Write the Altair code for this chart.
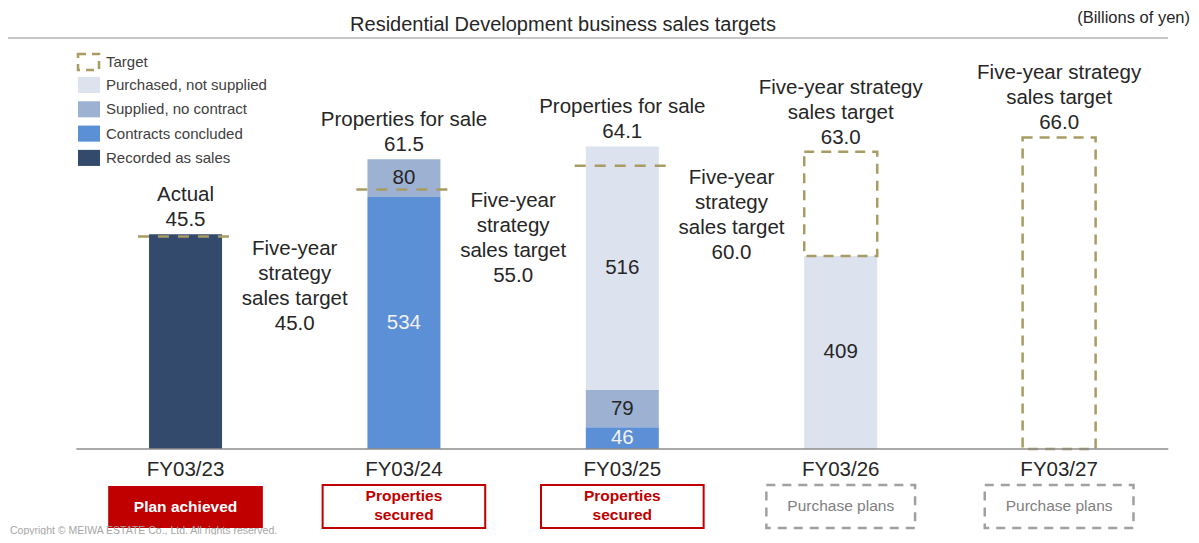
import altair as alt
import pandas as pd

# ---------------- data ----------------
years = ["FY03/23", "FY03/24", "FY03/25", "FY03/26", "FY03/27"]
segments = ["Purchased, not supplied", "Supplied, no contract", "Contracts concluded", "Recorded as sales"]
seg_colors = ["#dce3ef", "#9db1d3", "#5b8fd6", "#344a6c"]
stack_order = ["Recorded as sales", "Contracts concluded", "Supplied, no contract", "Purchased, not supplied"]
# values in hundreds of millions of yen
recorded = [455, 0, 0, 0, 0]
contracts = [0, 534, 46, 0, 0]
supplied = [0, 80, 79, 0, 0]
purchased = [0, 0, 516, 409, 0]
targets = [45.0, 55.0, 60.0, 63.0, 66.0]          # billions of yen
header_titles = [["Actual"], ["Properties for sale"], ["Properties for sale"],
                 ["Five-year strategy", "sales target"], ["Five-year strategy", "sales target"]]
header_values = ["45.5", "61.5", "64.1", "63.0", "66.0"]
target_note = ["Five-year", "strategy", "sales target"]
badge_texts = [["Plan achieved"], ["Properties", "secured"], ["Properties", "secured"],
               ["Purchase plans"], ["Purchase plans"]]
badge_kinds = ["achieved", "secured", "secured", "plans", "plans"]

# ---------------- layout ----------------
FONT = "Liberation Sans"
W, H = 1183, 527
X_DOM = [-0.79, 4.581]
Y_DOM = [-18.22, 93.43]
PX_X = W / (X_DOM[1] - X_DOM[0])
PX_Y = H / (Y_DOM[1] - Y_DOM[0])
LINE_H = 25
TXT = "#262626"
OLIVE = "#a89c64"
RED = "#c00000"
GREY = "#a0a0a0"

xs = alt.Scale(domain=X_DOM, nice=False, zero=False)
ys = alt.Scale(domain=Y_DOM, nice=False, zero=False)


def X(f):
    return alt.X(f, scale=xs, axis=None)


def Y(f):
    return alt.Y(f, scale=ys, axis=None)


# ---------------- tables ----------------
series = {"Recorded as sales": recorded, "Contracts concluded": contracts,
          "Supplied, no contract": supplied, "Purchased, not supplied": purchased}
rows = []
for i, y in enumerate(years):
    for s in stack_order:
        rows.append({"idx": i, "year": y, "segment": s, "order": stack_order.index(s),
                     "units": series[s][i]})
seg_df = pd.DataFrame(rows)

BADGE_HALF = {"achieved": 78, "secured": 82, "plans": 75}
yr = []
for i, y in enumerate(years):
    total = sum(series[s][i] for s in stack_order) / 10
    t = targets[i]
    anchor = max(total, t)
    header = header_titles[i] + [header_values[i]]
    yr.append({
        "idx": i, "year": y, "target": t, "total": total,
        "box": t > total,
        "header": header,
        "hdr_y": anchor + (14 + (len(header) - 1) * LINE_H) / PX_Y,
        "note": target_note + [f"{t:.1f}"],
        "note_x": i + 0.5,
        "line_lo": i - 48 / PX_X, "line_hi": i + 48 / PX_X,
        "badge": badge_texts[i], "kind": badge_kinds[i],
        "b_lo": i - BADGE_HALF[badge_kinds[i]] / PX_X,
        "b_hi": i + BADGE_HALF[badge_kinds[i]] / PX_X,
    })
yr_df = pd.DataFrame(yr)
axis_df = pd.DataFrame({"x0": [-0.5], "x1": [len(years) - 0.5], "y": [0.0]})
one = pd.DataFrame({"k": [0]})

# ---------------- layers ----------------
seg_base = (alt.Chart(seg_df)
            .transform_filter("datum.units > 0")
            .transform_calculate(v="datum.units / 10")
            .transform_stack(stack="v", groupby=["idx"], sort=[alt.SortField("order", "ascending")],
                             as_=["v0", "v1"])
            .transform_calculate(vm="(datum.v0 + datum.v1) / 2"))

bars = seg_base.mark_bar(size=73).encode(
    x=X("idx:Q"), y=Y("v0:Q"), y2="v1:Q",
    color=alt.Color("segment:N",
                    scale=alt.Scale(domain=segments, range=seg_colors),
                    legend=alt.Legend(orient="none", legendX=70, legendY=66, title=None,
                                      symbolType="M-1,-0.73H1V0.73H-1Z", symbolSize=484,
                                      symbolStrokeWidth=0, symbolOpacity=1,
                                      labelFont=FONT, labelFontSize=15, labelColor="#404040",
                                      labelLimit=400,
                                      rowPadding=4.3, labelOffset=6, padding=0)))

seg_labels = seg_base.transform_filter("datum.segment !== 'Recorded as sales'").mark_text(
    font=FONT, fontSize=20.5, baseline="middle", align="center").encode(
    x=X("idx:Q"), y=Y("vm:Q"), text="units:Q",
    color=alt.condition("datum.segment === 'Contracts concluded'", alt.value("#f2f2f2"), alt.value(TXT)))

yb = alt.Chart(yr_df)
target_lines = yb.transform_filter("!datum.box").mark_rule(
    stroke=OLIVE, strokeWidth=2.5, strokeDash=[11, 9]).encode(
    x=X("line_lo:Q"), x2="line_hi:Q", y=Y("target:Q"))

target_boxes = yb.transform_filter("datum.box").mark_bar(
    size=73, fillOpacity=0, stroke=OLIVE, strokeWidth=2.5, strokeDash=[10, 7]).encode(
    x=X("idx:Q"), y=Y("target:Q"), y2="total:Q")

baseline = alt.Chart(axis_df).mark_rule(stroke="#8c8c8c", strokeWidth=1.5).encode(
    x=X("x0:Q"), x2="x1:Q", y=Y("y:Q"))

headers = yb.mark_text(font=FONT, fontSize=20.5, baseline="middle", align="center",
                       lineHeight=LINE_H, color=TXT).encode(
    x=X("idx:Q"), y=Y("hdr_y:Q"), text="header:N")

notes = yb.transform_filter("!datum.box").mark_text(
    font=FONT, fontSize=20.5, baseline="top", align="center", lineHeight=LINE_H, color=TXT,
    dy=2).encode(
    x=X("note_x:Q"), y=Y("target:Q"), text="note:N")

xlabels = yb.mark_text(font=FONT, fontSize=20.5, baseline="middle", align="center",
                       color=TXT).encode(x=X("idx:Q"), y=alt.value(462), text="year:N")

badge_fill = yb.transform_filter("datum.kind === 'achieved'").mark_rect(fill=RED).encode(
    x=X("b_lo:Q"), x2="b_hi:Q", y=alt.value(478), y2=alt.value(520))
badge_out = yb.transform_filter("datum.kind === 'secured'").mark_rect(
    fill="white", stroke=RED, strokeWidth=2).encode(
    x=X("b_lo:Q"), x2="b_hi:Q", y=alt.value(477), y2=alt.value(520))
badge_dash = yb.transform_filter("datum.kind === 'plans'").mark_rect(
    fill="white", stroke=GREY, strokeWidth=2.5, strokeDash=[9, 7]).encode(
    x=X("b_lo:Q"), x2="b_hi:Q", y=alt.value(477), y2=alt.value(520))

bt_ach = yb.transform_filter("datum.kind === 'achieved'").mark_text(
    font=FONT, fontSize=15.5, fontWeight="bold", color="white", baseline="middle",
    align="center").encode(x=X("idx:Q"), y=alt.value(499), text="badge:N")
bt_sec = yb.transform_filter("datum.kind === 'secured'").mark_text(
    font=FONT, fontSize=15.5, fontWeight="bold", color=RED, baseline="middle",
    align="center", lineHeight=19).encode(x=X("idx:Q"), y=alt.value(488), text="badge:N")
bt_pl = yb.transform_filter("datum.kind === 'plans'").mark_text(
    font=FONT, fontSize=15.5, color="#808080", baseline="middle",
    align="center").encode(x=X("idx:Q"), y=alt.value(498), text="badge:N")

# decorations
oc = alt.Chart(one)
title_rule = oc.mark_rule(stroke="#c8c8c8", strokeWidth=2).encode(
    x=alt.value(0), x2=alt.value(1160), y=alt.value(30))
title = oc.mark_text(font=FONT, fontSize=20, color=TXT, align="center", baseline="middle").encode(
    x=alt.value(555), y=alt.value(17), text=alt.value("Residential Development business sales targets"))
unit = oc.mark_text(font=FONT, fontSize=16.5, color=TXT, align="right", baseline="middle").encode(
    x=alt.value(1182), y=alt.value(10), text=alt.value("(Billions of yen)"))
leg_target = oc.mark_rect(fill="white", fillOpacity=0, stroke=OLIVE, strokeWidth=2.5,
                          strokeDash=[8, 6]).encode(
    x=alt.value(70), x2=alt.value(91), y=alt.value(46), y2=alt.value(62))
leg_target_t = oc.mark_text(font=FONT, fontSize=15, color="#404040", align="left",
                            baseline="middle").encode(
    x=alt.value(98), y=alt.value(54), text=alt.value("Target"))
copyright = oc.mark_text(font=FONT, fontSize=10.5, color="#a6a6a6", align="left",
                         baseline="alphabetic").encode(
    x=alt.value(2), y=alt.value(526),
    text=alt.value("Copyright \u00a9 MEIWA ESTATE Co., Ltd. All rights reserved."))

chart = alt.layer(
    title_rule, title, unit,
    bars, target_boxes, target_lines, baseline, seg_labels, headers, notes, xlabels,
    badge_fill, badge_out, badge_dash, bt_ach, bt_sec, bt_pl,
    leg_target, leg_target_t, copyright,
).properties(
    width=W, height=H, padding=0,
    autosize=alt.AutoSizeParams(type="none"),
).configure_view(stroke=None)

chart.save("out.html", embed_options={"renderer": "svg", "actions": False})
